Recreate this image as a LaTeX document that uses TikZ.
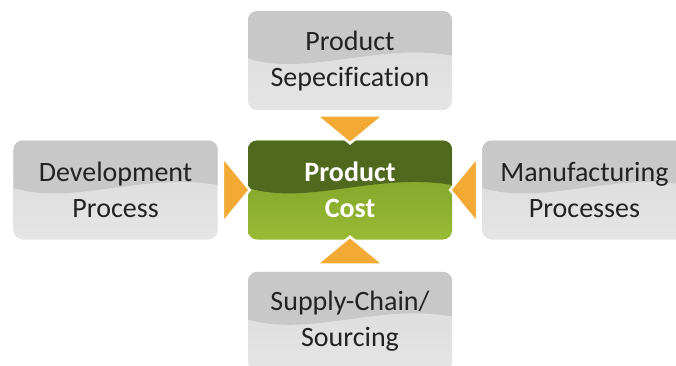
\documentclass[tikz,border=0pt]{standalone}
\usepackage{fontspec}
\setmainfont{Carlito}[Ligatures=CommonOff]
\usepackage{tikz}
\usetikzlibrary{positioning, calc}

\definecolor{grayhi}{RGB}{200,200,200}
\definecolor{graylo}{RGB}{218,218,218}
\definecolor{graybot}{RGB}{229,229,229}
\definecolor{greenhi}{RGB}{80,105,30}
\definecolor{greenlo}{RGB}{122,156,40}
\definecolor{greenbot}{RGB}{152,186,52}
\definecolor{tipfill}{RGB}{243,170,52}
\definecolor{boxtext}{RGB}{34,34,34}

\tikzset{
  % darker band over the upper half, with a wavy lower edge
  wave top/.style={path picture={
    \fill[#1, sharp corners]
      (path picture bounding box.north west)
      -- ([yshift=2pt]path picture bounding box.west)
      .. controls ([xshift=60pt,yshift=-16pt]path picture bounding box.west)
         and ([xshift=-75pt,yshift=18pt]path picture bounding box.east)
      .. ([yshift=5pt]path picture bounding box.east)
      -- (path picture bounding box.north east) -- cycle;}},
  factor/.style={rectangle, rounded corners=9pt, minimum width=204pt,
    minimum height=99pt, inner sep=0pt, align=center, text=boxtext,
    font=\fontsize{28}{36}\selectfont,
    top color=graylo, bottom color=graybot,
    wave top=grayhi},
  costbox/.style={factor, text=white, font=\fontsize{28}{36}\selectfont\bfseries,
    top color=greenlo, bottom color=greenbot,
    wave top=greenhi},
  pointer/.style={fill=tipfill, draw=white, line width=2.5pt, line join=miter}
}

\begin{document}
\begin{tikzpicture}[node distance=30pt]
  \useasboundingbox (0,0) rectangle (676pt,-365pt);

  \node[costbox] (cost) at (350pt,-190pt) {Product\\Cost};
  \node[factor, above=of cost] (spec) {Product\\Sepecification};
  \node[factor, left=of cost] (dev) {Development\\Process};
  \node[factor, right=of cost] (manuf) {Manufacturing\\Processes};
  \node[factor, below=32pt of cost] (supply) {Supply-Chain/\\Sourcing};

  % pointers into the cost box
  \filldraw[pointer] ($(spec.south)+(-34pt,-5pt)$) -- ($(spec.south)+(34pt,-5pt)$)
    -- ($(cost.north)+(0,-3pt)$) -- cycle;
  \filldraw[pointer] ($(dev.east)+(5pt,33pt)$) -- ($(dev.east)+(5pt,-33pt)$)
    -- ($(cost.west)+(2pt,0)$) -- cycle;
  \filldraw[pointer] ($(manuf.west)+(-5pt,33pt)$) -- ($(manuf.west)+(-5pt,-33pt)$)
    -- ($(cost.east)+(-2pt,0)$) -- cycle;
  \filldraw[pointer] ($(supply.north)+(-34pt,7pt)$) -- ($(supply.north)+(34pt,7pt)$)
    -- ($(cost.south)+(0,3pt)$) -- cycle;
\end{tikzpicture}
\end{document}
